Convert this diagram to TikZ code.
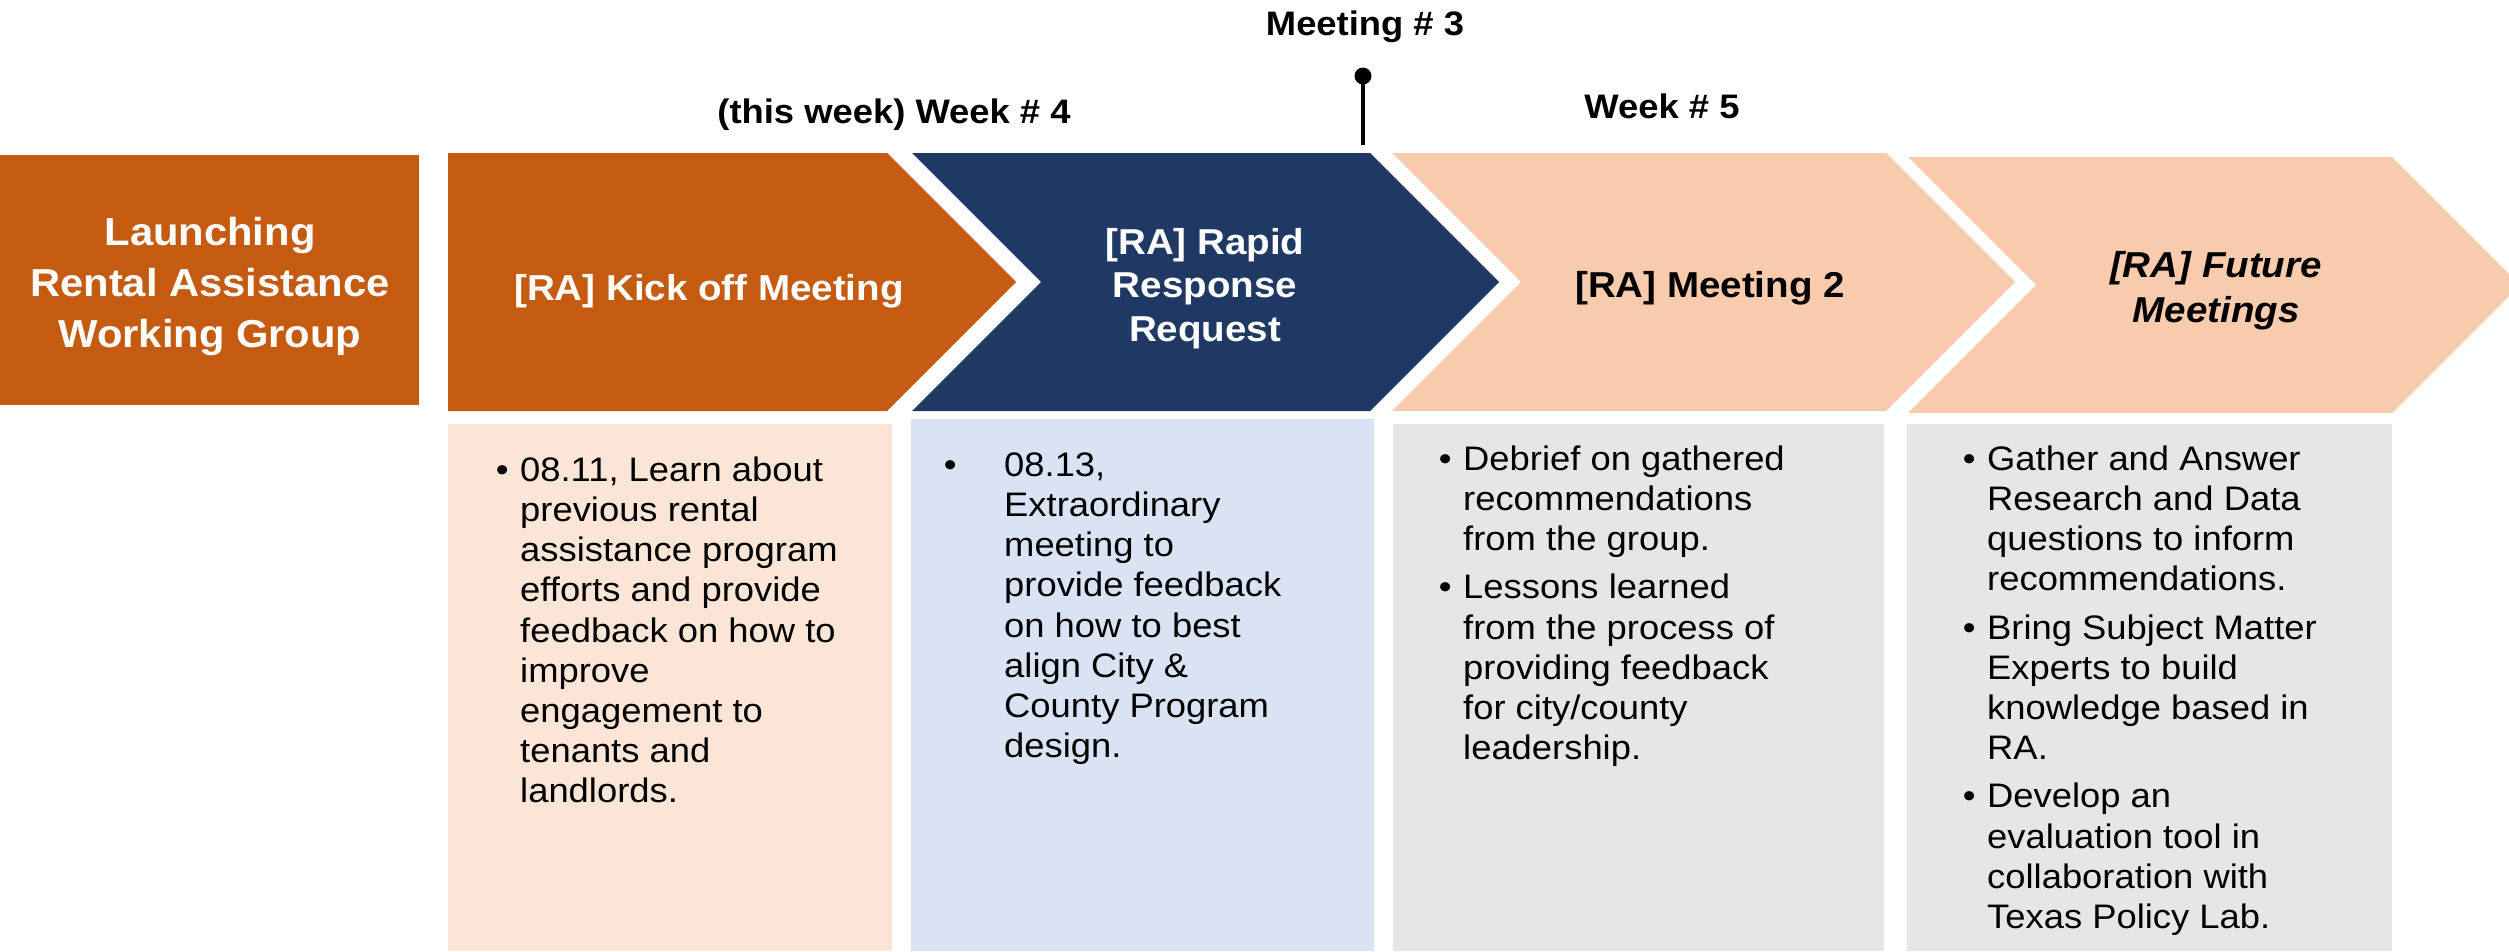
\documentclass[tikz,border=0pt]{standalone}
\usepackage{fontspec}
\setmainfont{Liberation Sans}[FakeStretch=1.07]
\definecolor{rustorange}{HTML}{C55A11}
\definecolor{navyblue}{HTML}{203864}
\definecolor{peach}{HTML}{F8CBAD}
\definecolor{peachlight}{HTML}{FBE5D6}
\definecolor{bluelight}{HTML}{DAE3F3}
\definecolor{greylight}{HTML}{E7E6E6}
\newcommand\topstrut{\rule{0pt}{50pt}}
\newcommand\botstrut{\rule[-50pt]{0pt}{50pt}}
\newcommand\bodystrut{\rule{0pt}{40pt}}
\newcommand\bul[1]{\llap{\textbullet\hspace{#1}}}
\begin{document}
\begin{tikzpicture}[x=1pt,y=-1pt,
  hdr/.style={font=\fontsize{34}{40}\selectfont\bfseries, anchor=base, inner sep=0pt, text=black},
  chevtxt/.style={font=\fontsize{36}{43.5}\selectfont\bfseries, align=center, inner sep=0pt},
  bodytxt/.style={font=\fontsize{34}{40.2}\selectfont, align=left, anchor=north west, inner sep=0pt, text=black}]
\useasboundingbox (0,0) rectangle (2509,951);

% launching box
\fill[rustorange] (0,155) rectangle (419,405);
% chevrons
\fill[rustorange] (448,153) -- (887,153) -- (1016,282) -- (887,411) -- (448,411) -- cycle;
\fill[navyblue] (912,153) -- (1370,153) -- (1499,282) -- (1370,411) -- (912,411) -- (1041,282) -- cycle;
\fill[peach] (1392,153) -- (1886,153) -- (2015,282) -- (1886,411) -- (1392,411) -- (1521,282) -- cycle;
\fill[peach] (1908,157) -- (2392,157) -- (2520,285) -- (2392,413) -- (1908,413) -- (2036,285) -- cycle;

% content boxes
\fill[peachlight] (448,424) rectangle (892,951);
\fill[bluelight] (911,419) rectangle (1374,951);
\fill[greylight] (1393,424) rectangle (1884,951);
\fill[greylight] (1907,424) rectangle (2392,951);

% milestone pin
\coordinate (pintop) at (1363,76);
\coordinate (pinbot) at (1363,145);
\draw[line width=4pt] (pintop) -- (pinbot);
\fill (pintop) circle[radius=8.5pt];

% headings
\node[hdr] (meet3) at (1365,35) {Meeting \# 3};
\node[hdr] (week4) at (894,123) {(this week) Week \# 4};
\node[hdr] (week5) at (1662,118) {Week \# 5};

% chevron labels
\node[chevtxt, font=\fontsize{39}{51}\selectfont\bfseries, text=white] (launch) at (210,296)
  {\topstrut Launching\\Rental Assistance\\Working Group\botstrut};
\node[chevtxt, text=white, anchor=base] (kick) at (709,300) {[RA] Kick off Meeting};
\node[chevtxt, text=white] (rapid) at (1205,297.5)
  {\topstrut[RA] Rapid\\Response\\Request\botstrut};
\node[chevtxt, text=black, anchor=base] (meet2) at (1710,297) {[RA] Meeting 2};
\node[chevtxt, font=\fontsize{36}{45}\selectfont\bfseries\itshape, text=black] (future) at (2216,299.5)
  {\topstrut[RA] Future\\Meetings\botstrut};

% body texts
\node[bodytxt] (body1) at (520,441)
  {\bodystrut\bul{11.6pt}08.11, Learn about\\
   previous rental\\
   assistance program\\
   efforts and provide\\
   feedback on how to\\
   improve\\
   engagement to\\
   tenants and\\
   landlords.};
\node[bodytxt] (body2) at (1004,436)
  {\bodystrut\bul{47.6pt}08.13,\\
   Extraordinary\\
   meeting to\\
   provide feedback\\
   on how to best\\
   align City \&\\
   County Program\\
   design.};
\node[bodytxt] (body3) at (1463,430)
  {\bodystrut\bul{11.6pt}Debrief on gathered\\
   recommendations\\
   from the group.\\[8pt]
   \bul{11.6pt}Lessons learned\\
   from the process of\\
   providing feedback\\
   for city/county\\
   leadership.};
\node[bodytxt] (body4) at (1987,430)
  {\bodystrut\bul{11.6pt}Gather and Answer\\
   Research and Data\\
   questions to inform\\
   recommendations.\\[8pt]
   \bul{11.6pt}Bring Subject Matter\\
   Experts to build\\
   knowledge based in\\
   RA.\\[8pt]
   \bul{11.6pt}Develop an\\
   evaluation tool in\\
   collaboration with\\
   Texas Policy Lab.};
\end{tikzpicture}
\end{document}
